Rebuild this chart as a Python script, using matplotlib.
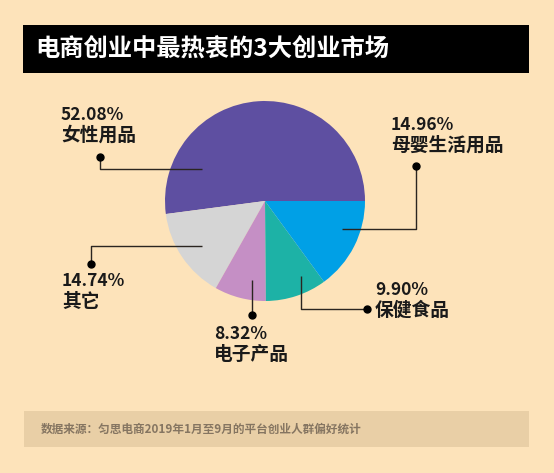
import matplotlib
matplotlib.use("Agg")
import matplotlib.pyplot as plt
from matplotlib.patches import Rectangle

plt.rcParams['font.family'] = ['Noto Sans CJK SC', 'DejaVu Sans']

# ---- data ----
title = "电商创业中最热衷的3大创业市场"
source = "数据来源：匀思电商2019年1月至9月的平台创业人群偏好统计"
categories = ["女性用品", "其它", "电子产品", "保健食品", "母婴生活用品"]
values = [52.08, 14.74, 8.32, 9.90, 14.96]
colors = ["#5E4FA1", "#D5D5D5", "#C58FC5", "#1DB2A6", "#00A0E6"]

W, H = 554, 473
BG = "#FDE3BA"
fig = plt.figure(figsize=(W / 100, H / 100), dpi=100, facecolor=BG)
ax = fig.add_axes([0, 0, 1, 1])
ax.set_xlim(0, W)
ax.set_ylim(0, H)
ax.set_aspect("equal")
ax.axis("off")
ax.set_facecolor(BG)

def Y(py):
    return H - py

# title bar
ax.add_patch(Rectangle((23, Y(73)), 506, 47.5, facecolor="black", edgecolor="none", zorder=1))
ax.text(35, Y(50), title, color="white", fontsize=17.5, fontweight="bold",
        va="center", ha="left", zorder=2)

# footer band
ax.add_patch(Rectangle((24, Y(447)), 505, 36, facecolor="#E9CFA6", edgecolor="none", zorder=1))
ax.text(41, Y(429.5), source, color="#857561", fontsize=8.4, fontweight="bold",
        va="center", ha="left", zorder=2)

# pie
ax.pie(values, colors=colors, startangle=0, counterclock=True,
       center=(265, Y(201)), radius=100, frame=True,
       wedgeprops=dict(linewidth=0))
ax.set_xlim(0, W)
ax.set_ylim(0, H)
ax.axis("off")

# leader lines & labels (layout positions in pixels)
lc = "#2a2520"
def leader(pts, dot):
    xs = [p[0] for p in pts]
    ys = [Y(p[1]) for p in pts]
    ax.plot(xs, ys, color=lc, lw=1.0, zorder=5, solid_capstyle="butt")
    ax.plot([dot[0]], [Y(dot[1])], "o", color="black", ms=5, zorder=6)

def label(x, ytop, pct, name):
    ax.text(x, Y(ytop), f"{pct:.2f}%", fontsize=12.5, fontweight="bold",
            color="#1a1a1a", va="top", ha="left", zorder=6)
    ax.text(x, Y(ytop + 20), name, fontsize=13.5, fontweight="bold",
            color="#1a1a1a", va="top", ha="left", zorder=6)

# 女性用品
leader([(100, 156.7), (100, 169.3), (201.7, 169.3)], (100, 156.7))
label(61, 106, values[0], categories[0])
# 其它
leader([(201.7, 246), (91, 246), (91, 264.3)], (91, 264.3))
label(62, 272, values[1], categories[1])
# 电子产品
leader([(252.3, 280), (252.3, 315)], (252.3, 315))
label(214, 325, values[2], categories[2])
# 保健食品
leader([(300.7, 276), (300.7, 309), (366.7, 309)], (366.7, 309))
label(375, 281, values[3], categories[3])
# 母婴生活用品
leader([(342.3, 229), (415.5, 229), (415.5, 166)], (415.5, 166))
label(391, 116, values[4], categories[4])

fig.savefig("out.png", dpi=100, facecolor=BG)
